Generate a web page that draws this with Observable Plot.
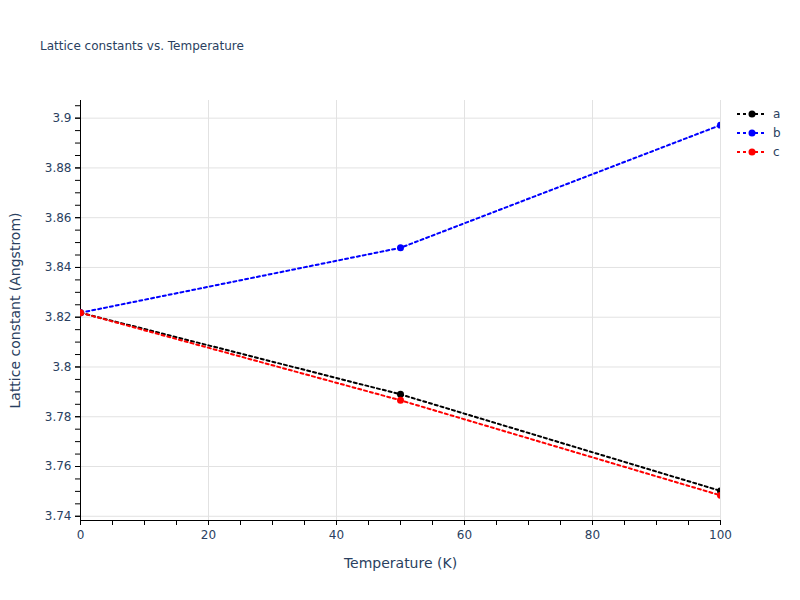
<!DOCTYPE html>
<html><head><meta charset="utf-8">
<script src="https://cdn.jsdelivr.net/npm/d3@7"></script>
<script src="https://cdn.jsdelivr.net/npm/@observablehq/plot@0.6"></script>
<style>body{margin:0;background:#fff;font-family:"DejaVu Sans",sans-serif}</style>
</head><body><div id="chart"></div>
<script>
const chartTitle = "Lattice constants vs. Temperature";
const xLabel = "Temperature (K)";
const yLabel = "Lattice constant (Angstrom)";
const temperatures = [0, 50, 100];
const seriesNames = ["a", "b", "c"];
const seriesColors = ["black", "blue", "red"];
const aValues = [3.8218, 3.7890, 3.7502];
const bValues = [3.8218, 3.8479, 3.8972];
const cValues = [3.8218, 3.7866, 3.7484];
const xTicks = [0, 20, 40, 60, 80, 100];
const xMinorTicks = [0,5,10,15,20,25,30,35,40,45,50,55,60,65,70,75,80,85,90,95,100];
const yTicks = [3.74, 3.76, 3.78, 3.8, 3.82, 3.84, 3.86, 3.88, 3.9];
const yMinorTicks = [3.74,3.745,3.75,3.755,3.76,3.765,3.77,3.775,3.78,3.785,3.79,3.795,3.8,3.805,3.81,3.815,3.82,3.825,3.83,3.835,3.84,3.845,3.85,3.855,3.86,3.865,3.87,3.875,3.88,3.885,3.89,3.895,3.9,3.905];
const yDomain = [3.7383, 3.9071];
const xDomain = [0, 100];

const allValues = [aValues, bValues, cValues];
const data = seriesNames.flatMap((s, i) => temperatures.map((t, j) => ({series: s, T: t, v: allValues[i][j]})));

const textColor = "#2a3f5f";
const gridColor = "#e2e2e2";
const font = '"DejaVu Sans", Verdana, sans-serif';

const seriesMarks = seriesNames.flatMap((s) => {
  const d = data.filter(r => r.series === s);
  return [
    Plot.line(d, {x: "T", y: "v", stroke: "series", strokeWidth: 2, strokeDasharray: "3,3", clip: true}),
    Plot.dot(d, {x: "T", y: "v", fill: "series", r: 3.5, clip: true})
  ];
});

const plot = Plot.plot({
  width: 800, height: 600,
  marginLeft: 80, marginRight: 80, marginTop: 100, marginBottom: 80,
  style: {fontFamily: font, fontSize: "12px", color: textColor, background: "white"},
  x: {domain: xDomain},
  y: {domain: yDomain},
  color: {domain: seriesNames, range: seriesColors},
  marks: [
    Plot.gridX(xTicks, {stroke: gridColor, strokeOpacity: 1}),
    Plot.gridY(yTicks, {stroke: gridColor, strokeOpacity: 1}),
    Plot.axisX(xMinorTicks, {tickSize: 5, tickFormat: () => "", label: null, stroke: "black"}),
    Plot.axisX(xTicks, {tickSize: 5, tickPadding: 5, stroke: "black", fill: textColor, fontSize: 12, tickFormat: d => String(d),
      label: xLabel, labelAnchor: "center", labelOffset: 47, labelArrow: "none"}),
    Plot.axisY(yMinorTicks, {tickSize: 5, tickFormat: () => "", label: null, stroke: "black"}),
    Plot.axisY(yTicks, {tickSize: 5, tickPadding: 4, stroke: "black", fill: textColor, fontSize: 12, tickFormat: d => String(d),
      label: yLabel, labelAnchor: "center", labelOffset: 70, labelArrow: "none"}),
    Plot.frame({anchor: "bottom", stroke: "black"}),
    Plot.frame({anchor: "left", stroke: "black"}),
    ...seriesMarks
  ]
});

const svg = d3.select(plot);
svg.selectAll("g[aria-label='x-axis label'] text, g[aria-label='y-axis label'] text").attr("font-size", 14).attr("fill", textColor);

svg.append("text")
  .attr("x", 40).attr("y", 46)
  .attr("text-anchor", "start")
  .attr("dominant-baseline", "central")
  .attr("font-size", 12)
  .attr("fill", textColor)
  .text(chartTitle);

const legend = svg.append("g");
seriesNames.forEach((s, i) => {
  const g = legend.append("g").attr("transform", `translate(737,${114 + 19 * i})`);
  g.append("line").attr("x1", 0).attr("x2", 30).attr("y1", 0).attr("y2", 0)
    .attr("stroke", seriesColors[i]).attr("stroke-width", 2).attr("stroke-dasharray", "3,3");
  g.append("circle").attr("cx", 15).attr("cy", 0).attr("r", 3.5).attr("fill", seriesColors[i]);
  g.append("text").attr("x", 36).attr("y", 0).attr("text-anchor", "start").attr("dominant-baseline", "central")
    .attr("font-size", 12).attr("fill", textColor).text(s);
});

document.getElementById("chart").appendChild(plot);
</script>
</body></html>
